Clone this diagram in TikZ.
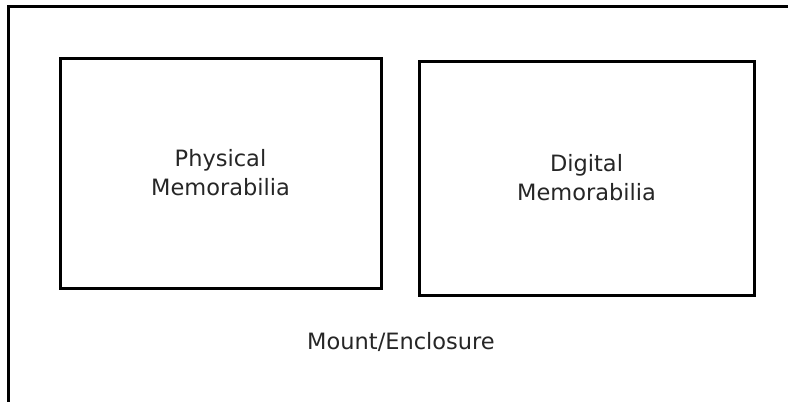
\documentclass[tikz,border=0pt]{standalone}
\usepackage{fontspec}
\setmainfont{DejaVu Sans}
\begin{document}
\begin{tikzpicture}[x=1pt,y=-1pt,
  box/.style={draw=black,line width=3pt,rectangle,inner sep=0pt},
  lbl/.style={font=\fontsize{22.5}{29}\selectfont,align=center,text=black!85}]
\useasboundingbox (0,0) rectangle (788,402);
\clip (0,0) rectangle (788,402);
\fill[white] (0,0) rectangle (788,402);
\draw[line width=3pt] (8.5,430) -- (8.5,6.5) -- (800,6.5);
\node[box,minimum width=321pt,minimum height=230pt] (phys) at (220.5,173) {};
\node[box,minimum width=335pt,minimum height=234pt] (dig) at (586.5,178) {};
\node[lbl] (physt) at (phys.center) {Physical\\Memorabilia};
\node[lbl] (digt) at (dig.center) {Digital\\Memorabilia};
\node[lbl] (mount) at (401,342) {Mount/Enclosure};
\end{tikzpicture}
\end{document}
